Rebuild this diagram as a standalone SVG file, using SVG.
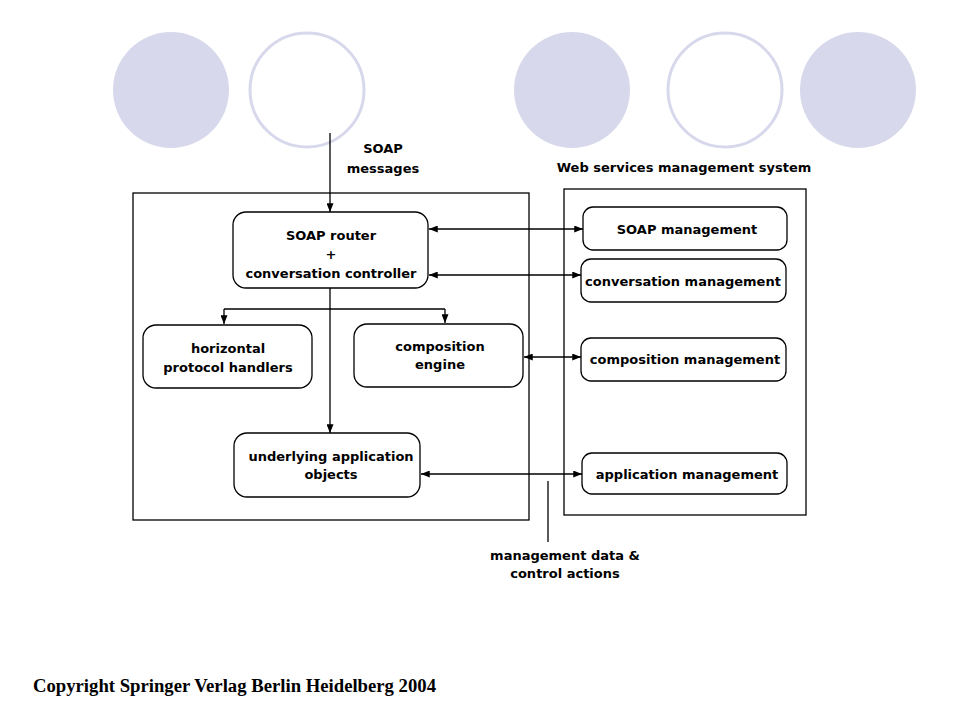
<svg xmlns="http://www.w3.org/2000/svg" width="960" height="720" viewBox="0 0 960 720">
<style>
.bg{fill:#ffffff}
.dot{fill:#D8D8EC}
.ring{fill:none;stroke:#D8D8EC;stroke-width:3}
.frame{fill:none;stroke:#000;stroke-width:1.3}
.node{fill:#fff;stroke:#000;stroke-width:1.3}
.lbl{font-family:"DejaVu Sans",sans-serif;font-weight:bold;font-size:13px;fill:#000;text-anchor:middle}
.conn{fill:none;stroke:#000;stroke-width:1.3}
.copy{font-family:"Liberation Serif",serif;font-weight:bold;font-size:18.7px;fill:#000}
</style>
<defs>
<marker id="ah" viewBox="0 0 10 8" refX="10" refY="4" markerWidth="9" markerHeight="7" markerUnits="userSpaceOnUse" orient="auto-start-reverse">
<path d="M0,0 L10,4 L0,8 z" fill="#000"/>
</marker>
</defs>
<rect class="bg" x="0" y="0" width="960" height="720"/>
<g id="decor">
<circle class="dot" cx="171" cy="90" r="58"/>
<circle class="ring" cx="307" cy="90" r="57"/>
<circle class="dot" cx="572" cy="90" r="58"/>
<circle class="ring" cx="725" cy="90" r="57"/>
<circle class="dot" cx="858" cy="90" r="58"/>
</g>
<g id="frames">
<rect class="frame" x="133" y="193" width="396" height="327"/>
<rect class="frame" x="564" y="189" width="242" height="326"/>
<text class="lbl" x="684" y="172">Web services management system</text>
</g>
<g id="soap-router">
<rect class="node" x="233" y="212" width="195" height="76" rx="13"/>
<text class="lbl" x="331" y="240">SOAP router</text>
<text class="lbl" x="331" y="259">+</text>
<text class="lbl" x="331" y="278">conversation controller</text>
</g>
<g id="horizontal-handlers">
<rect class="node" x="143" y="325" width="169" height="63" rx="13"/>
<text class="lbl" x="228" y="353">horizontal</text>
<text class="lbl" x="228" y="372">protocol handlers</text>
</g>
<g id="composition-engine">
<rect class="node" x="354" y="324" width="169" height="63" rx="13"/>
<text class="lbl" x="440" y="351">composition</text>
<text class="lbl" x="440" y="369">engine</text>
</g>
<g id="underlying-objects">
<rect class="node" x="234" y="433" width="186" height="64" rx="13"/>
<text class="lbl" x="331" y="461">underlying application</text>
<text class="lbl" x="331" y="479">objects</text>
</g>
<g id="soap-management">
<rect class="node" x="583" y="207" width="204" height="43" rx="10"/>
<text class="lbl" x="687" y="234">SOAP management</text>
</g>
<g id="conversation-management">
<rect class="node" x="581" y="259" width="205" height="43" rx="10"/>
<text class="lbl" x="683" y="286">conversation management</text>
</g>
<g id="composition-management">
<rect class="node" x="581" y="338" width="205" height="43" rx="10"/>
<text class="lbl" x="685" y="364">composition management</text>
</g>
<g id="application-management">
<rect class="node" x="582" y="453" width="205" height="41" rx="10"/>
<text class="lbl" x="687" y="479">application management</text>
</g>
<g id="labels">
<text class="lbl" x="383" y="153">SOAP</text>
<text class="lbl" x="383" y="173">messages</text>
<text class="lbl" x="565" y="560">management data &amp;</text>
<text class="lbl" x="565" y="578">control actions</text>
</g>
<g id="connectors">
<path class="conn" d="M330,133 V212" marker-end="url(#ah)"/>
<path class="conn" d="M330,288 V433" marker-end="url(#ah)"/>
<path class="conn" d="M224,309 H445"/>
<path class="conn" d="M224,309 V324" marker-end="url(#ah)"/>
<path class="conn" d="M445,309 V323" marker-end="url(#ah)"/>
<path class="conn" d="M429,229 H583" marker-start="url(#ah)" marker-end="url(#ah)"/>
<path class="conn" d="M429,275 H581" marker-start="url(#ah)" marker-end="url(#ah)"/>
<path class="conn" d="M524,357 H581" marker-start="url(#ah)" marker-end="url(#ah)"/>
<path class="conn" d="M421,474 H582" marker-start="url(#ah)" marker-end="url(#ah)"/>
<path class="conn" d="M548,481 V542"/>
</g>
<text class="copy" x="33" y="692">Copyright Springer Verlag Berlin Heidelberg 2004</text>
</svg>
